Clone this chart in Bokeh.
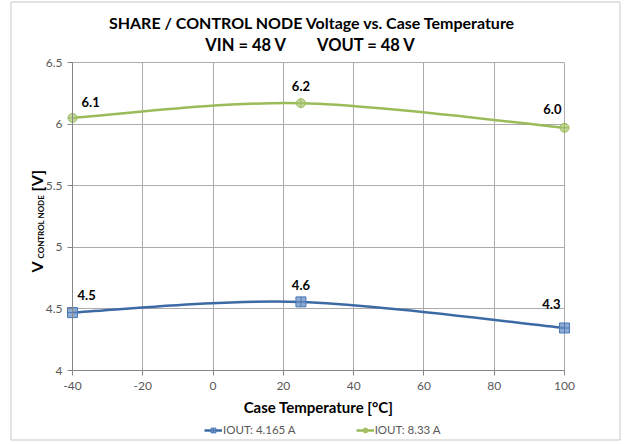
from bokeh.plotting import figure
from bokeh.models import (ColumnDataSource, Range1d, FixedTicker, Label, Legend,
                          LegendItem)
from bokeh.embed import file_html
from bokeh.resources import INLINE
from bokeh.core.properties import value
import math

# ---------------- data ----------------
temps = [-40, 25, 100]
iout1_v = [4.47, 4.557, 4.345]     # IOUT: 4.165 A
iout2_v = [6.05, 6.17, 5.97]       # IOUT: 8.33 A
iout1_lbl = ["4.5", "4.6", "4.3"]
iout2_lbl = ["6.1", "6.2", "6.0"]
series_names = ["IOUT: 4.165 A", "IOUT: 8.33 A"]
x_ticks = [-40, -20, 0, 20, 40, 60, 80, 100]
x_tick_labels = ["-40", "-20", "0", "20", "40", "60", "80", "100"]
y_ticks = [4, 4.5, 5, 5.5, 6, 6.5]
y_tick_labels = ["4", "4.5", "5", "5.5", "6", "6.5"]
x_min, x_max = -40, 100
y_min, y_max = 4, 6.5
title1 = "SHARE / CONTROL NODE Voltage vs. Case Temperature"
title2a = "VIN = 48 V"
title2b = "VOUT  = 48 V"
xlabel = "Case Temperature [°C]"
ylabel_main, ylabel_sub, ylabel_unit = "V", "CONTROL NODE", "[V]"

# ---------------- style / layout ----------------
FONT = "Lato"
BLUE_LINE = "#3C6AA5"
BLUE_FILL = "#7B9DCB"
BLUE_EDGE = "#4A77B4"
GREEN_LINE = "#9BBB59"
GREEN_FILL = "#BAD08F"
GREEN_EDGE = "#9BBB59"
GRID = "#ababab"
AXIS = "#868686"

W, H = 624, 442                     # canvas size
PL, PR, PT, PB = 72, 564, 62, 370   # plot-area edges in canvas pixels
BL, BR, BT, BB = 10.5, 619.5, 1.5, 439.5    # chart-area border in canvas pixels


def smooth_segments(xs, ys):
    """Excel-like smoothed line: cubic Bezier control points (Catmull-Rom, 1/6)."""
    n = len(xs)
    d = dict(x0=[], y0=[], x1=[], y1=[], cx0=[], cy0=[], cx1=[], cy1=[])
    for i in range(n - 1):
        ip = max(i - 1, 0)
        inn = min(i + 2, n - 1)
        d["x0"].append(xs[i]); d["y0"].append(ys[i])
        d["x1"].append(xs[i + 1]); d["y1"].append(ys[i + 1])
        d["cx0"].append(xs[i] + (xs[i + 1] - xs[ip]) / 6.0)
        d["cy0"].append(ys[i] + (ys[i + 1] - ys[ip]) / 6.0)
        d["cx1"].append(xs[i + 1] - (xs[inn] - xs[i]) / 6.0)
        d["cy1"].append(ys[i + 1] - (ys[inn] - ys[i]) / 6.0)
    return ColumnDataSource(d)


# ranges chosen so the frame fills the whole canvas and the plot area sits at PL..PR / PT..PB
kx = (x_max - x_min) / (PR - PL)
ky = (y_max - y_min) / (PB - PT)
x_range = Range1d(x_min - PL * kx, x_max + (W - PR) * kx)
y_range = Range1d(y_min - (H - PB) * ky, y_max + PT * ky)

p = figure(width=W, height=H, output_backend="svg", toolbar_location=None,
           x_range=x_range, y_range=y_range, min_border=0)
p.outline_line_color = None
p.background_fill_color = "white"
p.border_fill_color = "white"

# chart-area border (decoration, placed from the layout constants)
p.quad(left=[x_min - (PL - BL) * kx], right=[x_min + (BR - PL) * kx],
       top=[y_max + (PT - BT) * ky], bottom=[y_max - (BB - PT) * ky],
       fill_color=None, line_color="#c8c8c8", line_width=1)

# axes, fixed at the plot-area edges
p.xaxis.fixed_location = y_min
p.yaxis.fixed_location = x_min
p.xaxis.bounds = (x_min, x_max)
p.yaxis.bounds = (y_min, y_max)
for ax in (p.xaxis[0], p.yaxis[0]):
    ax.axis_line_color = AXIS
    ax.major_tick_line_color = AXIS
    ax.minor_tick_line_color = None
    ax.major_tick_out = 5
    ax.major_tick_in = 0
    ax.major_label_text_font = FONT
    ax.major_label_text_font_size = "12px"
    ax.major_label_text_color = "#595959"
p.xaxis.ticker = FixedTicker(ticks=x_ticks)
p.yaxis.ticker = FixedTicker(ticks=y_ticks)
p.xaxis.major_label_overrides = {t: l for t, l in zip(x_ticks, x_tick_labels)}
p.yaxis.major_label_overrides = {t: l for t, l in zip(y_ticks, y_tick_labels)}
p.xaxis.major_label_standoff = 6
p.yaxis.major_label_standoff = 5
p.xaxis.axis_label = xlabel
p.xaxis.axis_label_text_font = FONT
p.xaxis.axis_label_text_font_style = "bold"
p.xaxis.axis_label_text_font_size = "15px"
p.xaxis.axis_label_text_color = "black"
p.xaxis.axis_label_standoff = 5

# grid
xg, yg = p.xgrid[0], p.ygrid[0]
xg.ticker = FixedTicker(ticks=x_ticks)
yg.ticker = FixedTicker(ticks=y_ticks)
if "cross_bounds" in xg.properties():
    xg.bounds = (x_min, x_max)
    xg.cross_bounds = (y_min, y_max)
    yg.bounds = (y_min, y_max)
    yg.cross_bounds = (x_min, x_max)
    p.grid.grid_line_color = GRID
    p.grid.grid_line_width = 1
else:
    p.grid.grid_line_color = None
    p.segment(x0=x_ticks, y0=[y_min] * len(x_ticks), x1=x_ticks,
              y1=[y_max] * len(x_ticks), line_color=GRID, line_width=1)
    p.segment(x0=[x_min] * len(y_ticks), y0=y_ticks, x1=[x_max] * len(y_ticks),
              y1=y_ticks, line_color=GRID, line_width=1)

# series: (values, labels, line, fill, edge, marker, size, label x-offsets, y-offsets)
series = [
    (iout1_v, iout1_lbl, BLUE_LINE, BLUE_FILL, BLUE_EDGE, "square_cross", 10,
     [5, 0, -4], [18, 17, 24]),
    (iout2_v, iout2_lbl, GREEN_LINE, GREEN_FILL, GREEN_EDGE, "circle_cross", 9,
     [9, 0, -3], [16, 17, 19]),
]
label_align = ["left", "center", "right"]
items = []
for (vals, lbls, lc, fc, ec, mk, sz, xo, yo), name in zip(series, series_names):
    curve = p.bezier(x0="x0", y0="y0", x1="x1", y1="y1", cx0="cx0", cy0="cy0",
                     cx1="cx1", cy1="cy1", source=smooth_segments(temps, vals),
                     line_color=lc, line_width=2.5)
    sc = p.scatter(x=temps, y=vals, marker=mk, size=sz, fill_color=fc,
                   fill_alpha=0.85, line_color=ec, line_width=1)
    items.append(LegendItem(label=name, renderers=[curve, sc]))
    src = ColumnDataSource(dict(x=temps, y=vals, t=lbls, xo=xo,
                                yo=[-v for v in yo], al=label_align))
    p.text(x="x", y="y", text="t", x_offset="xo", y_offset="yo",
           text_align="al", text_baseline="middle", source=src,
           text_font=value(FONT), text_font_style="bold",
           text_font_size="13px", text_color="black")

legend = Legend(items=items, location=(204, 6), orientation="horizontal",
                glyph_width=18, glyph_height=12, label_standoff=1, spacing=60,
                padding=0, margin=0, border_line_color=None,
                background_fill_alpha=0, label_text_font=FONT,
                label_text_font_size="11.5px", label_text_color="#595959")
p.add_layout(legend)


# screen coords relative to the canvas: sx = canvas x, sy = H - canvas y
def lab(text, cx, cy, size, align="center", baseline="middle", angle=0.0):
    p.add_layout(Label(x=cx, y=H - cy, x_units="screen", y_units="screen",
                       text=text, text_font=FONT, text_font_size=size,
                       text_font_style="bold", text_align=align,
                       text_baseline=baseline, angle=angle, text_color="black"))


lab(title1, 312, 22, "16px")
lab(title2a, 245.5, 44, "16.5px")
lab(title2b, 368, 44, "16.5px")
lab(ylabel_main, 36.3, 272, "16px", align="left", baseline="alphabetic",
    angle=math.pi / 2)
lab(ylabel_sub, 40.7, 258, "8px", align="left", baseline="alphabetic",
    angle=math.pi / 2)
lab(ylabel_unit, 36.3, 191, "16px", align="left", baseline="alphabetic",
    angle=math.pi / 2)

open("out.html", "w").write(file_html(p, INLINE))
